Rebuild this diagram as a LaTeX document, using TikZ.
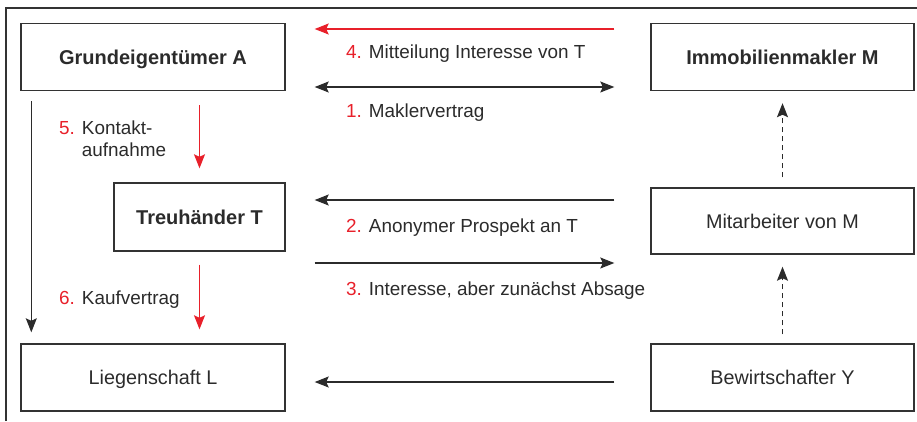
\documentclass[tikz,border=0pt]{standalone}
\usepackage{fontspec}
\setmainfont{Liberation Sans}
\usetikzlibrary{arrows.meta,calc}
\definecolor{redc}{HTML}{E8202A}
\definecolor{ink}{HTML}{2B2B2B}
\definecolor{linec}{HTML}{333333}
\tikzset{
  tip/.tip={Stealth[length=14pt,width=11pt,inset=2.5pt]},
  box/.style={draw=linec, line width=1.4pt, minimum width=264pt, minimum height=67pt, inner sep=0pt,
    text height=14.2pt, text depth=0pt, font=\fontsize{19.8}{23}\selectfont, text=ink},
  boldbox/.style={box, font=\fontsize{20}{23}\selectfont\bfseries},
  arr/.style={draw=ink, line width=1.2pt, -tip},
  darr/.style={arr, tip-tip},
  rarr/.style={arr, draw=redc, -{tip[fill=redc]}},
  dasharr/.style={arr, dash pattern=on 5pt off 4pt},
  lbl/.style={anchor=base west, inner sep=0pt, text=ink, font=\fontsize{18.9}{22}\selectfont, align=left},
}
\newcommand{\rn}[1]{{\color{redc}#1}}
\begin{document}
\begin{tikzpicture}[x=1pt,y=-1pt]
\useasboundingbox (0,0) rectangle (917,421);
\draw[draw=linec, line width=1.2pt] (6,421) -- (6,8) -- (917,8);
% boxes
\node[boldbox] (A) at (153,57) {Grundeigentümer A};
\node[boldbox, minimum width=171pt, minimum height=68pt] (T) at (199.5,217) {Treuhänder T};
\node[box] (L) at (153,377.5) {Liegenschaft L};
\node[boldbox, minimum width=263pt] (M) at (782.5,57) {Immobilienmakler M};
\node[box, minimum width=263pt, minimum height=66pt] (Mi) at (782.5,221) {Mitarbeiter von M};
\node[box, minimum width=263pt] (Y) at (782.5,377.5) {Bewirtschafter Y};
% horizontal arrows
\draw[rarr, shorten <=36pt, shorten >=29pt] ([yshift=28pt]M.west) -- ([yshift=28pt]A.east);
\draw[darr, shorten <=29pt, shorten >=36pt] ([yshift=-30pt]A.east) -- ([yshift=-30pt]M.west);
\draw[arr, shorten <=36pt, shorten >=29pt] ([yshift=21pt]Mi.west) -- ([yshift=17pt]T.east);
\draw[arr, shorten <=29pt, shorten >=36pt] ([yshift=-46pt]T.east) -- ([yshift=-42pt]Mi.west);
\draw[arr, shorten <=36pt, shorten >=29pt] ([yshift=-4.5pt]Y.west) -- ([yshift=-4.5pt]L.east);
% vertical arrows
\draw[arr, shorten <=10pt, shorten >=11pt] ([xshift=11pt]A.south west) -- ([xshift=11pt]L.north west);
\draw[rarr, shorten <=14pt, shorten >=14pt] (A.south -| T.north) -- (T.north);
\draw[rarr, shorten <=13pt, shorten >=14pt] (T.south) -- (T.south |- L.north);
\draw[dasharr, shorten <=10pt, shorten >=12pt] (Mi.north) -- (M.south);
\draw[dasharr, shorten <=9pt, shorten >=12pt] (Y.north) -- (Mi.south);
% labels
\node[lbl] (l4) at (346,58.5) {\rn{4.} Mitteilung Interesse von T};
\node[lbl] (l1) at (346,117.3) {\rn{1.} Maklervertrag};
\node[lbl] (l2) at (346,232.7) {\rn{2.} Anonymer Prospekt an T};
\node[lbl] (l3) at (346,295.3) {\rn{3.} Interesse, aber zunächst Absage};
\node[lbl] (l5) at (59,156) {\rn{5.} Kontakt-\\\phantom{5. }aufnahme};
\node[lbl] (l6) at (59,304) {\rn{6.} Kaufvertrag};
\end{tikzpicture}
\end{document}
